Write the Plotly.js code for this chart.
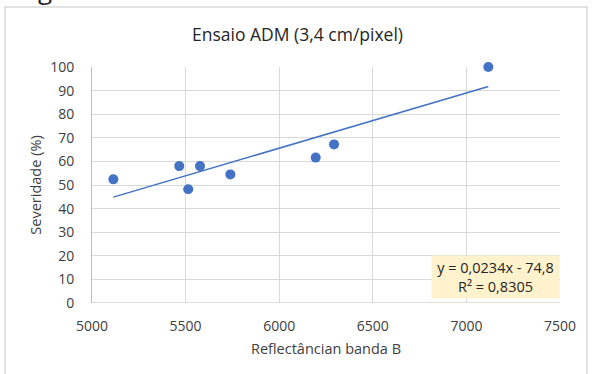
<!DOCTYPE html>
<html><head><meta charset="utf-8">
<script src="https://cdn.plot.ly/plotly-3.0.1.min.js"></script>
<style>html,body{margin:0;padding:0;background:#fff}#c{width:595px;height:374px}</style>
</head><body><div id="c"></div>
<script>
const reflectance = [5114, 5466, 5514, 5577, 5739, 6195, 6293, 7117];
const severity = [52.4, 58.0, 48.2, 58.0, 54.5, 61.6, 67.2, 100.0];
const trendSlope = 0.0234;
const trendIntercept = -74.8;
const trendLabel = ["y = 0,0234x - 74,8", "R² = 0,8305"];
const xTicks = [5000, 5500, 6000, 6500, 7000, 7500];
const yTicks = [0, 10, 20, 30, 40, 50, 60, 70, 80, 90, 100];

const xMin = Math.min(...reflectance), xMax = Math.max(...reflectance);
const trendX = [xMin, xMax];
const trendY = trendX.map(v => trendSlope * v + trendIntercept);

const fontFam = "'Open Sans', 'Noto Sans', sans-serif";
const px = v => (v - 92) / 468;
const py = v => (303 - v) / 236;

const data = [
  {x: trendX, y: trendY, mode: 'lines', type: 'scatter', line: {color: '#4472C4', width: 1.5}, hoverinfo: 'skip', cliponaxis: false},
  {x: reflectance, y: severity, mode: 'markers', type: 'scatter', marker: {color: '#4472C4', size: 10}, cliponaxis: false}
];

const layout = {
  width: 595, height: 374,
  margin: {l: 92, r: 35, t: 67, b: 71},
  paper_bgcolor: '#fff', plot_bgcolor: '#fff',
  showlegend: false,
  title: {text: 'Ensaio ADM (3,4 cm/pixel)', font: {family: fontFam, size: 17.5, color: '#262626'}, x: 0.5, xanchor: 'center', y: 1 - 35/374, yanchor: 'middle'},
  xaxis: {range: [5000, 7500], tickvals: xTicks, ticktext: xTicks.map(String), showgrid: true, gridcolor: '#d9d9d9', gridwidth: 1,
          zeroline: false, showline: false, ticks: '', ticklabelstandoff: 13, tickfont: {family: fontFam, size: 14, color: '#404040'},
          title: {text: 'Reflectâncian banda B', font: {family: fontFam, size: 14.5, color: '#404040'}, standoff: 9}},
  yaxis: {range: [0, 100], tickvals: yTicks, ticktext: yTicks.map(String), showgrid: true, gridcolor: '#d9d9d9', gridwidth: 1,
          zeroline: false, showline: true, linecolor: '#bfbfbf', linewidth: 1, ticks: '', ticklabelstandoff: 14,
          tickfont: {family: fontFam, size: 14, color: '#404040'},
          title: {text: 'Severidade (%)', font: {family: fontFam, size: 14.5, color: '#404040'}, standoff: 5}},
  shapes: [
    {type: 'line', xref: 'paper', yref: 'y', x0: 0, x1: 1, y0: 0, y1: 0, line: {color: '#bfbfbf', width: 1}},
    {type: 'rect', xref: 'paper', yref: 'paper', x0: px(5), x1: px(587), y0: py(380), y1: py(7), line: {color: '#d9d9d9', width: 1.5}, layer: 'below'}
  ],
  annotations: [
    {xref: 'paper', yref: 'paper', x: px(560), y: py(299), xanchor: 'right', yanchor: 'bottom',
     text: trendLabel.join('<br>'), showarrow: false, align: 'center', bgcolor: '#FFF2CC', borderpad: 2, width: 123,
     font: {family: fontFam, size: 14.5, color: '#262626'}},
    {xref: 'paper', yref: 'paper', x: px(45), y: py(-11), xanchor: 'center', yanchor: 'middle', text: 'g', showarrow: false,
     font: {family: fontFam, size: 26, color: '#222'}}
  ]
};
Plotly.newPlot('c', data, layout, {displayModeBar: false, staticPlot: true});
</script></body></html>
